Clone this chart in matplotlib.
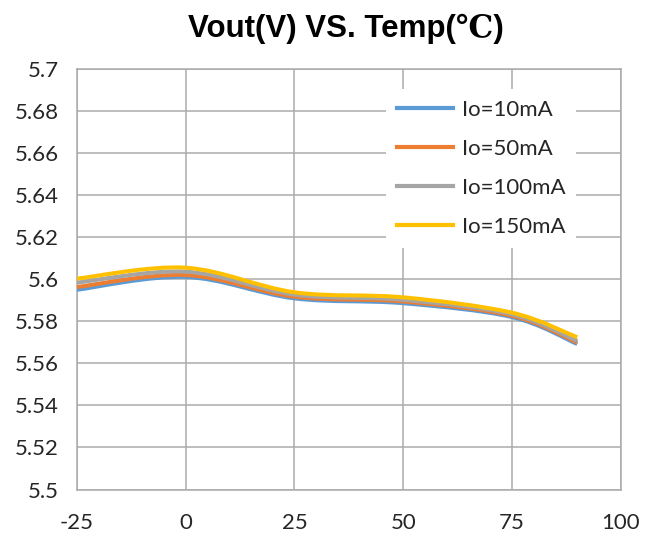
import numpy as np
import matplotlib.pyplot as plt
from matplotlib.path import Path
from matplotlib.patches import PathPatch
from matplotlib.lines import Line2D

plt.rcParams['axes.unicode_minus'] = False

# data
temp = [-25, 0, 25, 50, 75, 90]
io_10 = [5.5950, 5.6011, 5.5909, 5.5886, 5.5820, 5.5692]
io_50 = [5.5963, 5.6020, 5.5917, 5.5894, 5.5826, 5.5699]
io_100 = [5.5984, 5.6036, 5.5927, 5.5902, 5.5833, 5.5707]
io_150 = [5.6003, 5.6055, 5.5938, 5.5914, 5.5841, 5.5724]
labels = ['Io=10mA', 'Io=50mA', 'Io=100mA', 'Io=150mA']
colors = ['#5B9BD5', '#ED7D31', '#A5A5A5', '#FFC000']

xticks = [-25, 0, 25, 50, 75, 100]
yticks = np.round(np.arange(5.5, 5.7001, 0.02), 2)


def smooth_path(x, y):
    # excel style smoothed line: catmull-rom as cubic bezier
    pts = np.column_stack([x, y]).astype(float)
    p = np.vstack([pts[0], pts, pts[-1]])
    verts = [pts[0]]
    codes = [Path.MOVETO]
    for i in range(1, len(p) - 2):
        c1 = p[i] + (p[i + 1] - p[i - 1]) / 6
        c2 = p[i + 1] - (p[i + 2] - p[i]) / 6
        verts += [c1, c2, p[i + 1]]
        codes += [Path.CURVE4] * 3
    return Path(verts, codes)


fig = plt.figure(figsize=(6.53, 5.35), dpi=100)
ax = fig.add_axes([77 / 653, 1 - 489.5 / 535, (620.7 - 77) / 653, (489.5 - 69) / 535])

grid_c = '#ABABAB'
handles = []
for series, lab, c in zip([io_10, io_50, io_100, io_150], labels, colors):
    ax.add_patch(PathPatch(smooth_path(temp, series), fill=False, edgecolor=c,
                           lw=2.9, capstyle='butt', zorder=3))
    handles.append(Line2D([], [], color=c, lw=3.0))

ax.set_xlim(-25, 100)
ax.set_ylim(5.5, 5.7)
ax.set_xticks(xticks)
ax.set_yticks(yticks)
ax.set_yticklabels([('%g' % v) for v in yticks])
ax.grid(True, color=grid_c, lw=1.1)
ax.set_axisbelow(True)
for s in ax.spines.values():
    s.set_color(grid_c)
    s.set_linewidth(1.1)
ax.tick_params(axis='both', length=0, labelsize=16, labelcolor='#262626')
ax.tick_params(axis='x', pad=17)
ax.tick_params(axis='y', pad=13)
for t in ax.get_xticklabels() + ax.get_yticklabels():
    t.set_family('Lato')

leg = ax.legend(handles, labels, loc='upper left',
                bbox_to_anchor=(386 / 653, 1 - 89 / 535), bbox_transform=fig.transFigure,
                borderaxespad=0, borderpad=0.5, handlelength=2.5, handletextpad=0.4,
                labelspacing=0.85, frameon=True, fancybox=False, framealpha=1,
                facecolor='white', edgecolor='none',
                prop={'family': 'Lato', 'size': 16})
for t in leg.get_texts():
    t.set_color('#262626')

fig.text(345.5 / 653, 1 - 37 / 535, 'Vout(V) VS. Temp(℃)', ha='center', va='baseline',
         fontsize=22.5, fontweight='bold', family=['Liberation Sans', 'DejaVu Serif'])

fig.savefig('out.png', dpi=100)
